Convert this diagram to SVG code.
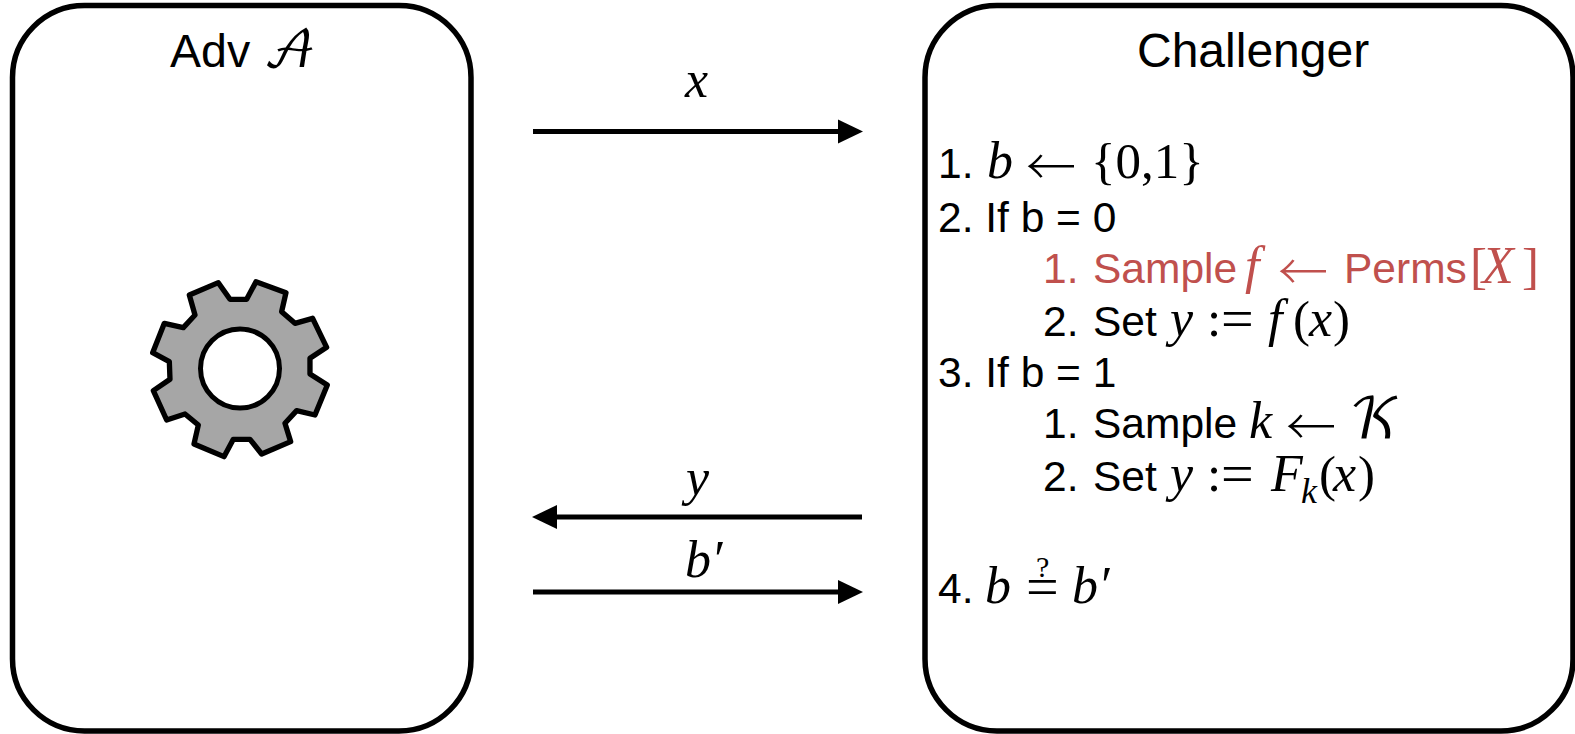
<svg xmlns="http://www.w3.org/2000/svg" width="1575" height="734" viewBox="0 0 1575 734">
<style>
text{font-family:"Liberation Sans",Arial,sans-serif;font-size:42.5px;fill:#000}
.m{font-family:"Liberation Serif","Times New Roman",serif;font-style:italic;font-size:52px}
.r{font-family:"Liberation Serif","Times New Roman",serif;font-size:51px}
.e{font-family:"Liberation Serif","Times New Roman",serif;font-size:58px}
.ar{font-family:"Noto Sans CJK JP","Noto Sans CJK SC",sans-serif;font-size:50px;font-weight:300}
.s{font-family:"DejaVu Math TeX Gyre","Liberation Serif",serif;font-size:50px}
.red,.red *{fill:#c0504d}
.box{fill:#fff;stroke:#000;stroke-width:5.5}
.c{stroke:#000;stroke-width:5;fill:none;marker-end:url(#a)}
</style>
<defs><marker id="a" markerUnits="userSpaceOnUse" markerWidth="26" markerHeight="26" refX="12" refY="13" orient="auto"><path d="M0 1 25 13 0 25z" fill="#000"/></marker></defs>
<g id="adv"><rect class="box" x="12.500" y="5.500" width="458.500" height="725.500" rx="72"/>
<text x="170" y="67" style="font-size:46.500px">Adv</text><text class="s" x="263" y="67">𝒜</text></g>
<g id="gear"><path transform="translate(130 260) scale(.3333)" d="M265 68 300 118H350L378 65 468 98 455 155 495 190 548 175 590 262 540 295V342L592 375 555 465 500 452 465 490 482 545 395 582 360 538H310L282 590 192 552 205 495 165 462 110 480 70 392 120 358 118 305 68 278 103 190 160 203 195 165 178 105Z" fill="#a6a6a6" stroke="#000" stroke-width="16" stroke-linejoin="round"/>
<circle cx="240" cy="368.500" r="39.500" fill="#fff" stroke="#000" stroke-width="5"/></g>
<g id="challenger"><rect class="box" x="925" y="5.500" width="648" height="725.500" rx="72"/>
<text x="1137" y="67" style="font-size:48px">Challenger</text>
<text x="938" y="178">1.</text><text class="m" x="987" y="178">b</text><text class="ar" x="1026" y="185">←</text><text class="r" x="1091" y="178">{0,1}</text>
<text x="938" y="232">2. If b = 0</text>
<g class="red"><text x="1043" y="283">1.</text><text x="1093" y="283">Sample</text><text class="m" x="1245" y="283">f</text><text class="ar" x="1278" y="290">←</text><text x="1344" y="283">Perms</text><text class="r" x="1470" y="283">[</text><text class="m" x="1482" y="283">X</text><text class="r" x="1522" y="283">]</text></g>
<text x="1043" y="336">2.</text><text x="1093" y="336">Set</text><text class="m" x="1170" y="336">y</text><text class="r" x="1207" y="336">:</text><text class="e" x="1221" y="338">=</text><text class="m" x="1268" y="336">f</text><text class="r" x="1293" y="336">(</text><text class="m" x="1309" y="336">x</text><text class="r" x="1333" y="336">)</text>
<text x="938" y="387">3. If b = 1</text>
<text x="1043" y="438">1.</text><text x="1093" y="438">Sample</text><text class="m" x="1249" y="438">k</text><text class="ar" x="1286" y="445">←</text><text class="s" x="1349" y="438" style="font-size:56px">𝒦</text>
<text x="1043" y="491">2.</text><text x="1093" y="491">Set</text><text class="m" x="1170" y="491">y</text><text class="r" x="1207" y="491">:</text><text class="e" x="1221" y="493">=</text><text class="m" x="1271" y="491">F</text><text class="m" x="1301" y="503" style="font-size:36px">k</text><text class="r" x="1319" y="491">(</text><text class="m" x="1333" y="491">x</text><text class="r" x="1358" y="491">)</text>
<text x="938" y="603">4.</text><text class="m" x="985" y="603">b</text><text class="e" x="1026" y="606">=</text><text class="r" x="1036" y="577" style="font-size:30px">?</text><text class="m" x="1072" y="603">b′</text></g>
<g id="connectors"><line class="c" x1="533" y1="131.500" x2="850" y2="131.500"/><line class="c" x1="862" y1="517" x2="545" y2="517"/><line class="c" x1="533" y1="592" x2="850" y2="592"/></g>
<g id="labels"><text class="m" x="685" y="97">x</text><text class="m" x="686" y="495">y</text><text class="m" x="685" y="577">b′</text></g>
</svg>
